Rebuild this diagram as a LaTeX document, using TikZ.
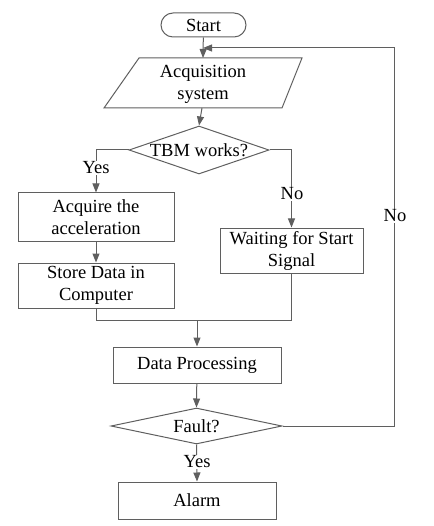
\documentclass[tikz,border=0pt]{standalone}
\usepackage{fontspec}
\setmainfont{Liberation Serif}
\usetikzlibrary{shapes.geometric,arrows.meta}
\definecolor{linegray}{RGB}{95,95,95}
\begin{document}
\begin{tikzpicture}[x=1pt,y=-1pt,
  ln/.style={draw=linegray, line width=1pt},
  arr/.style={ln,-{Triangle[length=9pt,width=7pt]}},
  txt/.style={align=center, inner sep=0pt, font=\fontsize{18.5}{22}\selectfont},
  box/.style={txt, draw=linegray, line width=1pt, rectangle},
  dia/.style={txt, draw=linegray, line width=1pt, diamond},
  term/.style={txt, draw=linegray, line width=1pt, rectangle, rounded corners=12pt},
  lbl/.style={txt, fill=white, inner sep=1pt}]
\useasboundingbox (0,0) rectangle (433,526);
\node[term, minimum width=85pt, minimum height=24pt] (start) at (203.5,25) {Start};
\draw[ln] (104,108) -- (139,58) -- (302,58) -- (282,108) -- cycle;
\node[txt] (acq) at (203,84) {Acquisition\\system};
\coordinate (acqt) at (203,58);
\coordinate (acqb) at (202,108);
\coordinate (j) at (203,48);
\coordinate (loopc) at (394,48);
\node[dia, aspect=2.95, minimum width=140pt, minimum height=48pt] (tbm) at (199,150) {TBM works?};
\node[box, minimum width=156pt, minimum height=48pt] (acquire) at (96,217) {Acquire the\\acceleration};
\node[box, minimum width=156pt, minimum height=45pt] (store) at (96,285.5) {Store Data in\\Computer};
\node[box, minimum width=143pt, minimum height=45pt] (wait) at (291.5,250.5) {Waiting for Start\\Signal};
\coordinate (m) at (197,320);
\node[box, minimum width=168pt, minimum height=36pt] (dp) at (197,365) {Data Processing};
\node[dia, aspect=4.75, minimum width=171pt, minimum height=36pt] (fault) at (196.5,426) {Fault?};
\node[box, minimum width=158pt, minimum height=37pt] (alarm) at (197,500.5) {Alarm};
\draw[arr] (start) -- (acqt);
\draw[arr] (acqb) -- (tbm.north);
\draw[arr] (tbm.west) -| (acquire.north);
\draw[arr] (tbm.east) -| (wait.north);
\draw[arr] (acquire) -- (store);
\draw[ln] (store.south) |- (m);
\draw[ln] (wait.south) |- (m);
\draw[arr] (m) -- (dp.north);
\draw[arr] (dp) -- (fault.north);
\draw[arr] (fault.south) -- (alarm.north);
\draw[arr] (fault.east) -| (loopc) -- (j);
\node[lbl] (yes1) at (96,168) {Yes};
\node[lbl] (no1) at (292,194) {No};
\node[lbl] (no2) at (395,216) {No};
\node[lbl] (yes2) at (197,462) {Yes};
\end{tikzpicture}
\end{document}
